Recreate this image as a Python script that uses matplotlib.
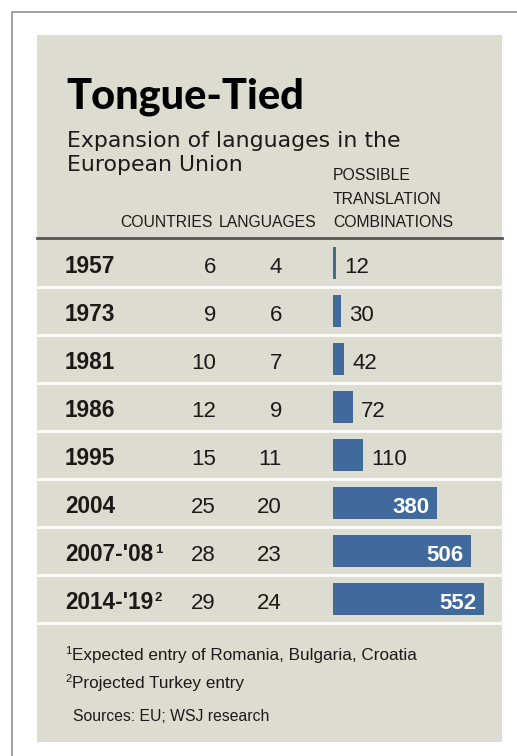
import matplotlib.pyplot as plt
from matplotlib.patches import Rectangle

years = ["1957", "1973", "1981", "1986", "1995", "2004", "2007-'08", "2014-'19"]
year_notes = ["", "", "", "", "", "", "1", "2"]
countries = [6, 9, 10, 12, 15, 25, 28, 29]
languages = [4, 6, 7, 9, 11, 20, 23, 24]
combinations = [12, 30, 42, 72, 110, 380, 506, 552]

title = "Tongue-Tied"
subtitle = ["Expansion of languages in the", "European Union"]
headers = ["COUNTRIES", "LANGUAGES"]
bar_header = ["POSSIBLE", "TRANSLATION", "COMBINATIONS"]
footnotes = ["Expected entry of Romania, Bulgaria, Croatia", "Projected Turkey entry"]
source = "Sources: EU; WSJ research"

BG = "#dcdcd0"
BLUE = "#40699c"
INK = "#1a1a1a"
SANS = "Liberation Sans"
HEAVY = ["Lato", "Liberation Sans"]

W, H = 517, 756
fig = plt.figure(figsize=(W / 100, H / 100), dpi=100)
fig.patch.set_facecolor("white")

ax = fig.add_axes([0, 0, 1, 1])
ax.set_xlim(0, W)
ax.set_ylim(H, 0)
ax.axis("off")

# frame and panel
ax.plot([11.5, 11.5, W], [H, 11.5, 11.5], color="#9a9a9a", lw=1.3, solid_capstyle="butt")
ax.add_patch(Rectangle((37, 35), 465, 707, facecolor=BG, edgecolor="none"))

# title block
ax.text(66, 108, title, fontsize=30, fontweight="black", family=HEAVY, color="black", va="baseline")
ax.text(67, 147, subtitle[0], fontsize=15.8, family="DejaVu Sans", color=INK, va="baseline")
ax.text(67, 171, subtitle[1], fontsize=15.8, family="DejaVu Sans", color=INK, va="baseline")

# column headers
ax.text(213, 227, headers[0], fontsize=11.3, family=SANS, color=INK, ha="right", va="baseline")
ax.text(316, 227, headers[1], fontsize=11.3, family=SANS, color=INK, ha="right", va="baseline")
for k, line in enumerate(bar_header):
    ax.text(333, 180 + 23.5 * k, line, fontsize=11.3, family=SANS, color=INK, va="baseline")

ax.plot([37, 502], [238, 238], color="#555555", lw=2)

row_top = 239
row_h = 48
n = len(years)

# row separators
for i in range(n):
    y = row_top + row_h * (i + 1)
    ax.plot([37, 502], [y, y], color="#f8f8f4", lw=2.3)

fig.canvas.draw()
renderer = fig.canvas.get_renderer()
inv = ax.transData.inverted()

for i in range(n):
    base = row_top + row_h * i + 34
    t = ax.text(65, base, years[i], fontsize=16.3, fontweight="bold", family=SANS, color=INK, va="baseline")
    if year_notes[i]:
        bb = t.get_window_extent(renderer)
        x1 = inv.transform((bb.x1, bb.y0))[0]
        ax.text(x1 + 1.5, base - 8, year_notes[i], fontsize=9.5, fontweight="bold",
                family=SANS, color=INK, va="baseline")
    ax.text(216, base, str(countries[i]), fontsize=16, family=SANS, color=INK, ha="right", va="baseline")
    ax.text(282, base, str(languages[i]), fontsize=16, family=SANS, color=INK, ha="right", va="baseline")

# bars on their own value scale
bx = fig.add_axes([333 / W, (H - row_top - row_h * n) / H, 160 / W, row_h * n / H])
bx.set_xlim(0, 160 / 0.2736)
bx.set_ylim(n - 0.5, -0.5)
bx.axis("off")
bx.patch.set_alpha(0)
rows = list(range(n))
bx.barh(rows, combinations, height=32 / 48, color=BLUE)
for i, v in enumerate(combinations):
    if v > 200:
        bx.annotate(str(v), (v, i), xytext=(-5.5, -7.2), textcoords="offset points",
                    ha="right", va="baseline", fontsize=16, fontweight="bold",
                    family=SANS, color="white")
    else:
        bx.annotate(str(v), (v, i), xytext=(6, -7.2), textcoords="offset points",
                    ha="left", va="baseline", fontsize=16, family=SANS, color=INK)

# notes
for k, note in enumerate(footnotes):
    yb = 660 + 28 * k
    ax.text(65, yb - 6, str(k + 1), fontsize=8, family=SANS, color=INK, va="baseline")
    ax.text(72, yb, note, fontsize=12.3, family=SANS, color=INK, va="baseline")
ax.text(73, 721, source, fontsize=11.3, family=SANS, color=INK, va="baseline")

fig.savefig("out.png", dpi=100, facecolor="white")
